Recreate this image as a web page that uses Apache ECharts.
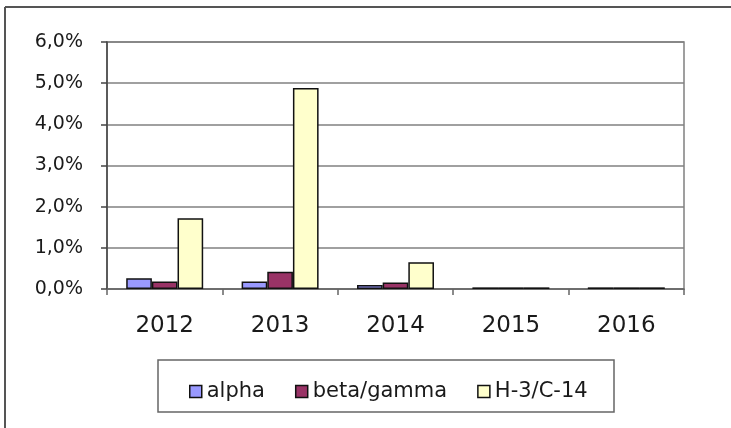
<!DOCTYPE html>
<html>
<head>
<meta charset="utf-8">
<script src="https://cdn.jsdelivr.net/npm/echarts@6/dist/echarts.min.js"></script>
<style>
html,body{margin:0;padding:0;background:#fff;}
#chart{width:731px;height:428px;}
</style>
</head>
<body>
<div id="chart"></div>
<script>
const categories = ['2012', '2013', '2014', '2015', '2016'];
const alpha = [0.26, 0.18, 0.10, 0.04, 0.04];
const betaGamma = [0.18, 0.42, 0.16, 0.04, 0.04];
const h3c14 = [1.72, 4.88, 0.65, 0.04, 0.04];
const seriesNames = ['alpha', 'beta/gamma', 'H-3/C-14'];
const yTicks = { min: 0, max: 6, interval: 1 };

const font = '"DejaVu Sans", Verdana, sans-serif';
const chart = echarts.init(document.getElementById('chart'), null, { renderer: 'canvas' });

function barSeries(name, data, color) {
  return {
    name: name,
    type: 'bar',
    data: data,
    barGap: '0%',
    barCategoryGap: '33.3%',
    itemStyle: { color: color, borderColor: '#111', borderWidth: 1.5 },
    emphasis: { disabled: true }
  };
}

chart.setOption({
  animation: false,
  backgroundColor: '#fff',
  textStyle: { fontFamily: font },
  graphic: [
    { type: 'line', shape: { x1: 5, y1: 7, x2: 731, y2: 7 }, style: { stroke: '#555', lineWidth: 2 } },
    { type: 'line', shape: { x1: 5, y1: 7, x2: 5, y2: 428 }, style: { stroke: '#555', lineWidth: 2 } },
    { type: 'rect', shape: { x: 158, y: 360, width: 456, height: 52 }, style: { fill: 'none', stroke: '#666', lineWidth: 1.5 }, z: -1 }
  ],
  grid: {
    left: 107, right: 47, top: 42, bottom: 139,
    show: true, borderColor: '#808080', borderWidth: 1.5, backgroundColor: 'transparent'
  },
  legend: {
    data: seriesNames,
    left: 184,
    top: 376,
    itemWidth: 12,
    itemHeight: 12,
    itemGap: 30,
    icon: 'rect',
    textStyle: { fontFamily: font, fontSize: 21, color: '#1a1a1a' },
    itemStyle: { borderColor: '#111', borderWidth: 1.5 }
  },
  xAxis: {
    type: 'category',
    data: categories,
    axisLine: { lineStyle: { color: '#666', width: 1.5 } },
    axisTick: { show: true, length: 6, lineStyle: { color: '#666', width: 1.5 } },
    axisLabel: { fontFamily: font, fontSize: 23, color: '#1a1a1a', margin: 26 }
  },
  yAxis: {
    type: 'value',
    min: yTicks.min,
    max: yTicks.max,
    interval: yTicks.interval,
    axisLine: { show: true, lineStyle: { color: '#444', width: 1.5 } },
    axisTick: { show: true, length: 6, lineStyle: { color: '#444', width: 1.5 } },
    splitLine: { lineStyle: { color: '#808080', width: 1.5 } },
    axisLabel: {
      fontFamily: font, fontSize: 19, color: '#1a1a1a', margin: 24,
      formatter: v => v.toFixed(1).replace('.', ',') + '%'
    }
  },
  series: [
    barSeries(seriesNames[0], alpha, '#9999FF'),
    barSeries(seriesNames[1], betaGamma, '#993366'),
    barSeries(seriesNames[2], h3c14, '#FFFFCC')
  ]
});
</script>
</body>
</html>
